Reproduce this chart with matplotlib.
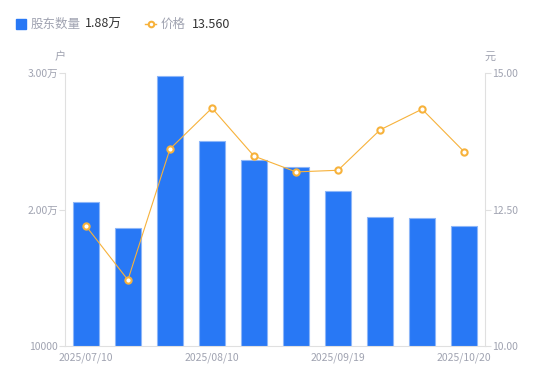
import matplotlib.pyplot as plt
from matplotlib.lines import Line2D
from matplotlib.patches import Rectangle

plt.rcParams['font.family'] = ['Noto Sans CJK SC', 'DejaVu Sans']

# data
dates = ['2025/07/10', '2025/07/20', '2025/07/31', '2025/08/10', '2025/08/20',
         '2025/08/31', '2025/09/19', '2025/09/30', '2025/10/10', '2025/10/20']
holders = [20550, 18650, 29780, 25020, 23630, 23110, 21350, 19450, 19380, 18800]
price = [12.20, 11.21, 13.61, 14.36, 13.48, 13.19, 13.22, 13.96, 14.34, 13.56]
left_ticks = [10000, 20000, 30000]
left_labels = ['10000', '2.00万', '3.00万']
right_ticks = [10.0, 12.5, 15.0]
right_labels = ['10.00', '12.50', '15.00']
shown = [0, 3, 6, 9]

blue = '#2878F5'
orange = '#F7B23B'
gray = '#A0A3B1'
axis_gray = '#E0E0E0'

fig = plt.figure(figsize=(5.5, 3.81), dpi=100)
ax = fig.add_axes([0.118, 0.092, 0.764, 0.716])
x = range(len(dates))

# bars - holder count
ax.bar(x, holders, width=0.62, color=blue, edgecolor='#8DB6F8', linewidth=0.8, zorder=2)
ax.set_xlim(-0.5, len(dates) - 0.5)
ax.set_ylim(10000, 30000)
ax.set_yticks(left_ticks)
ax.set_yticklabels(left_labels)
ax.set_xticks(shown)
ax.set_xticklabels([dates[i] for i in shown])

# line - price
ax2 = ax.twinx()
ax2.plot(x, price, color=orange, linewidth=0.8, marker='o', markersize=4.5,
         markerfacecolor='white', markeredgecolor=orange, markeredgewidth=1.5, zorder=3)
ax2.set_ylim(10, 15)
ax2.set_yticks(right_ticks)
ax2.set_yticklabels(right_labels)

for a in (ax, ax2):
    for s in a.spines.values():
        s.set_visible(False)
    a.tick_params(colors=gray, labelsize=7.5, length=4, width=0.8)
    a.tick_params(axis='y', color=axis_gray, pad=1)
for a, side in ((ax, 'left'), (ax, 'bottom'), (ax2, 'right')):
    a.spines[side].set_visible(True)
    a.spines[side].set_color(axis_gray)
ax.tick_params(axis='x', length=0, pad=5)

# unit labels
fig.text(60 / 550, 1 - 57 / 381, '户', color=gray, fontsize=8, ha='center', va='center')
fig.text(490 / 550, 1 - 57 / 381, '元', color=gray, fontsize=8, ha='center', va='center')

# legend
ly = 1 - 24 / 381
fig.patches.append(Rectangle((16 / 550, ly - 5 / 381), 10 / 550, 10 / 381,
                             transform=fig.transFigure, color=blue, figure=fig))
fig.text(31 / 550, ly, '股东数量', color=gray, fontsize=9, va='center')
fig.text(85 / 550, ly, '1.88万', color='#333333', fontsize=9, va='center')
fig.lines.append(Line2D([145 / 550, 150.5 / 550, 156 / 550], [ly, ly, ly],
                        transform=fig.transFigure, color=orange, linewidth=1,
                        marker='o', markersize=4, markevery=[1],
                        markerfacecolor='white', markeredgewidth=1.5))
fig.text(161 / 550, ly, '价格', color=gray, fontsize=9, va='center')
fig.text(192 / 550, ly, '13.560', color='#333333', fontsize=9, va='center')

fig.savefig('out.png', dpi=100)
